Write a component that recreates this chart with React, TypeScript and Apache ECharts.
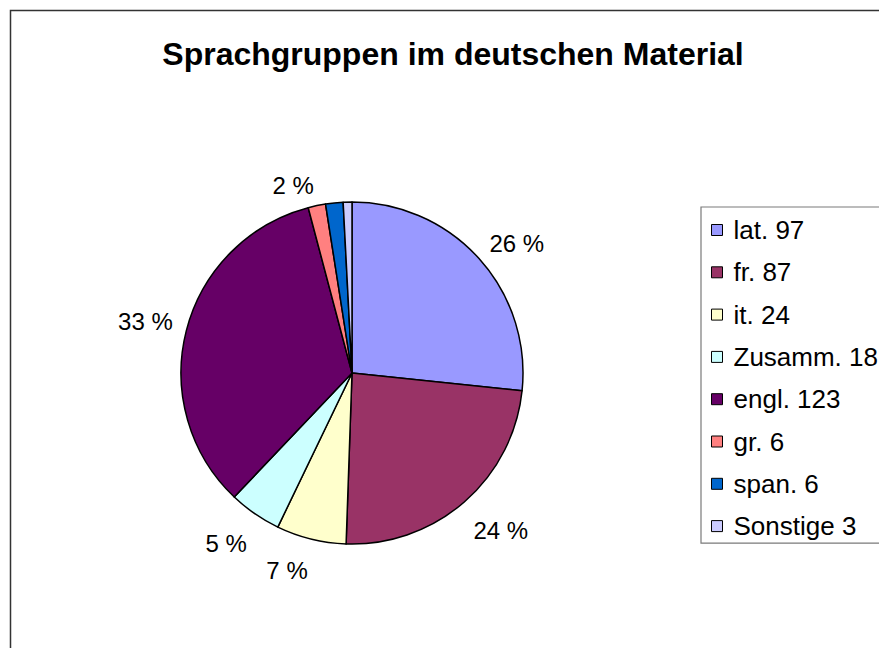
import React, { useEffect, useRef } from "react";
import * as echarts from "echarts";

const titleText = "Sprachgruppen im deutschen Material";
const categories = ["lat.", "fr.", "it.", "Zusamm.", "engl.", "gr.", "span.", "Sonstige"];
const counts = [97, 87, 24, 18, 123, 6, 6, 3];
const percentLabels = ["26 %", "24 %", "7 %", "5 %", "33 %", "2 %", "", ""];
const colors = ["#9999FF", "#993366", "#FFFFCC", "#CCFFFF", "#660066", "#FF8080", "#0066CC", "#CCCCFF"];

const FONT = "'Liberation Sans', Arial, Helvetica, sans-serif";
const CX = 352;
const CY = 373;
const R = 171;
const LABEL_GAP = 14;
const LABEL_DY = 6;

export default function App() {
  const ref = useRef<HTMLDivElement>(null);
  useEffect(() => {
    document.body.style.margin = "0";
    if (!ref.current) return;
    const chart = echarts.init(ref.current, null, { renderer: "svg" });
    const total = counts.reduce((a, b) => a + b, 0);
    const midAngles: number[] = [];
    let acc = 0;
    counts.forEach((v) => {
      midAngles.push(((acc + v / 2) / total) * 2 * Math.PI);
      acc += v;
    });
    const data = categories.map((c, i) => ({
      name: `${c} ${counts[i]}`,
      value: counts[i],
      itemStyle: { color: colors[i] },
      label: { show: percentLabels[i] !== "", formatter: percentLabels[i] },
    }));
    chart.setOption({
      animation: false,
      backgroundColor: "#ffffff",
      textStyle: { fontFamily: FONT },
      title: {
        text: titleText,
        left: 448,
        top: 33,
        textAlign: "center",
        textStyle: { fontFamily: FONT, fontSize: 32, fontWeight: "bold", color: "#000" },
      },
      graphic: [
        {
          type: "rect",
          shape: { x: 10.5, y: 10.5, width: 1000, height: 1000 },
          style: { fill: "none", stroke: "#333333", lineWidth: 1.5 },
          z: 100,
        },
      ],
      legend: {
        orient: "vertical",
        left: 701,
        top: 207,
        padding: [10, 60, 4, 10],
        itemGap: 16.3,
        itemWidth: 11,
        itemHeight: 11,
        icon: "rect",
        borderColor: "#7a7a7a",
        borderWidth: 1.2,
        itemStyle: { borderColor: "#000", borderWidth: 1 },
        textStyle: { fontFamily: FONT, fontSize: 26, color: "#000", lineHeight: 26, padding: [0, 0, 0, 6] },
        data: data.map((d) => d.name),
      },
      series: [
        {
          type: "pie",
          center: [CX, CY],
          radius: R,
          startAngle: 90,
          clockwise: true,
          avoidLabelOverlap: false,
          data,
          itemStyle: { borderColor: "#000", borderWidth: 1.5 },
          label: {
            position: "outside",
            fontFamily: FONT,
            fontSize: 24,
            lineHeight: 24,
            color: "#000",
          },
          labelLine: { show: false, length: 14, length2: 4 },
          labelLayout: (p: any) => {
            const a = midAngles[p.dataIndex];
            const ux = Math.sin(a);
            const uy = -Math.cos(a);
            const d = R + LABEL_GAP;
            return {
              x: CX + ux * d,
              y: CY + uy * d + LABEL_DY,
              align: ux >= 0 ? "left" : "right",
              verticalAlign: uy >= 0 ? "top" : "bottom",
            };
          },
          emphasis: { disabled: true },
        },
      ],
    });
    return () => chart.dispose();
  }, []);
  return <div ref={ref} style={{ width: 879, height: 648 }} />;
}
